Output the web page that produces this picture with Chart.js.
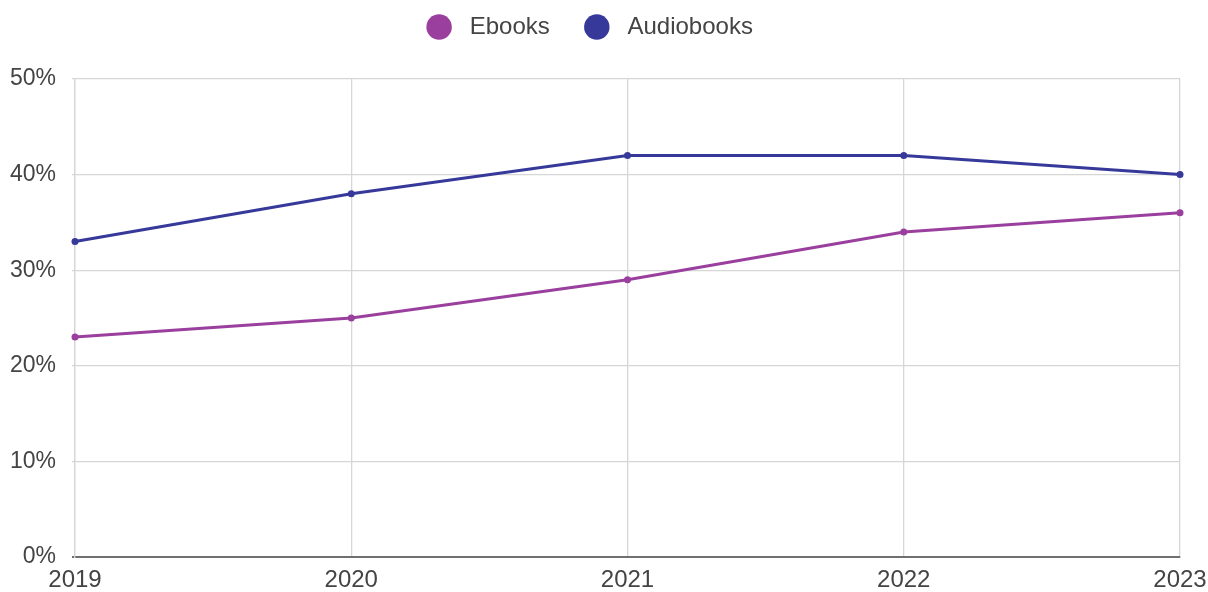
<!DOCTYPE html>
<html>
<head>
<meta charset="utf-8">
<title>Ebooks vs Audiobooks</title>
<script src="https://cdn.jsdelivr.net/npm/chart.js@4.4.0/dist/chart.umd.min.js"></script>
<style>
  html, body { margin: 0; padding: 0; background: #fff; }
  #wrap { width: 1208px; height: 592px; }
</style>
</head>
<body>
<div id="wrap"><canvas id="myChart"></canvas></div>
<script>
// share of readers per year (%)
const years = ['2019', '2020', '2021', '2022', '2023'];
const ebooks = [23, 25, 29, 34, 36];
const audiobooks = [33, 38, 42, 42, 40];
const yTicks = [0, 10, 20, 30, 40, 50];

const gridColor = '#d6d6d6';
const baseColor = '#707070';
const textColor = '#444';
const fontFamily = "Arial, 'Liberation Sans', sans-serif";

// make room under the legend
const legendSpacing = {
    id: 'legendSpacing',
    beforeInit(chart) {
        const fit = chart.legend.fit;
        chart.legend.fit = function () {
            fit.bind(chart.legend)();
            this.height = 99;
        };
    }
};

const ctx = document.getElementById('myChart');
const myChart = new Chart(ctx, {
    type: 'line',
    data: {
        labels: years,
        datasets: [{
            label: 'Ebooks',
            data: ebooks,
            borderColor: '#9a3f9e',
            backgroundColor: '#9a3f9e',
            borderWidth: 3,
            pointRadius: 3.5,
            pointBorderWidth: 0,
            tension: 0
        }, {
            label: 'Audiobooks',
            data: audiobooks,
            borderColor: '#36399a',
            backgroundColor: '#36399a',
            borderWidth: 3,
            pointRadius: 3.5,
            pointBorderWidth: 0,
            tension: 0
        }]
    },
    options: {
        responsive: true,
        maintainAspectRatio: false,
        animation: false,
        layout: { padding: { top: -20, right: 28, bottom: 0, left: 0 } },
        plugins: {
            legend: {
                position: 'top',
                labels: {
                    usePointStyle: true,
                    pointStyle: 'circle',
                    boxWidth: 24,
                    boxHeight: 18,
                    padding: 35,
                    color: textColor,
                    font: { family: fontFamily, size: 24 },
                    generateLabels(chart) {
                        const items = Chart.defaults.plugins.legend.labels.generateLabels(chart);
                        items.forEach(it => { it.text = ' ' + it.text; });
                        return items;
                    }
                }
            },
            tooltip: { enabled: false }
        },
        scales: {
            x: {
                offset: false,
                grid: { color: gridColor, lineWidth: 1.3, drawTicks: false },
                border: { color: baseColor, width: 2 },
                ticks: {
                    color: textColor,
                    padding: 9,
                    maxRotation: 0,
                    font: { family: fontFamily, size: 24 }
                },
                afterFit(scale) {
                    scale.height = 35;
                    // end labels may hang over the plot edges
                    scale.paddingLeft = 0;
                    scale.paddingRight = 0;
                }
            },
            y: {
                min: 0,
                max: 50,
                afterBuildTicks(scale) {
                    scale.ticks = yTicks.map(v => ({ value: v }));
                },
                grid: {
                    color: c => c.tick && c.tick.value === 0 ? baseColor : gridColor,
                    lineWidth: c => c.tick && c.tick.value === 0 ? 2 : 1.3,
                    tickLength: 3
                },
                border: { color: gridColor, width: 1.3 },
                ticks: {
                    color: textColor,
                    padding: 16,
                    font: { family: fontFamily, size: 23 },
                    callback: v => v + '%'
                },
                afterFit(scale) { scale.width = 75; }
            }
        }
    },
    plugins: [legendSpacing]
});
</script>
</body>
</html>
